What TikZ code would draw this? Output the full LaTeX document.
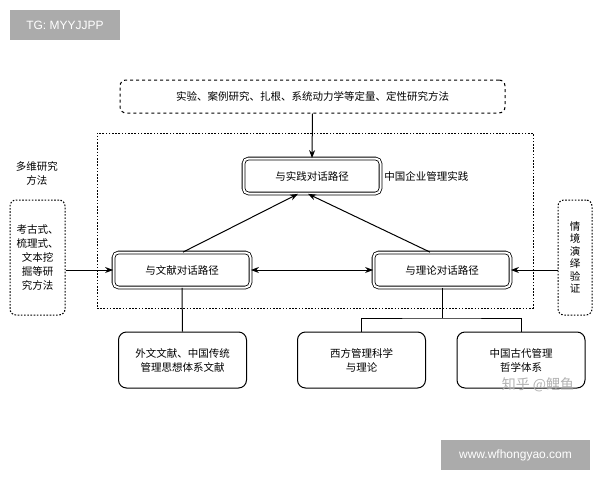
\documentclass[tikz,border=0pt]{standalone}
\usepackage{fontspec}
\newfontfamily\cjk{Noto Sans CJK SC}
\setsansfont{Liberation Sans}
\usetikzlibrary{arrows.meta}
\begin{document}
\begin{tikzpicture}[x=1pt,y=-1pt,
  every node/.style={font=\cjk\fontsize{10.5}{14}\selectfont, align=center},
  dbox/.style={draw, double, double distance=2pt, line width=0.8pt, rounded corners=5pt, minimum width=137pt, minimum height=35pt},
  rbox/.style={draw, line width=1pt, rounded corners=8pt, minimum width=128pt, minimum height=56pt},
  dots/.style={draw, dash pattern=on 1.6pt off 1.6pt, line width=1pt},
  arr/.style={-{Stealth[length=8pt,width=6pt]}, line width=1pt},
  ln/.style={line width=1pt}]
\useasboundingbox (0,0) rectangle (600,480);
\fill[white] (0,0) rectangle (600,480);
\node[fill=black!33, text=white, minimum width=110pt, minimum height=30pt, font=\sffamily\fontsize{12}{14}\selectfont] (tg) at (65,25) {TG: MYYJJPP};
\node[draw, dashed, line width=1pt, rounded corners=6pt, minimum width=385pt, minimum height=33pt] (top) at (312.5,96.5) {实验、案例研究、扎根、系统动力学等定量、定性研究方法};
\node[dots, minimum width=436pt, minimum height=175pt] (big) at (315,220.5) {};
\node[dbox] (sj) at (312,176) {与实践对话路径};
\node[anchor=west] (sjl) at (sj.east) {中国企业管理实践};
\node[dbox] (wx) at (182,270) {与文献对话路径};
\node[dbox] (ll) at (442,270) {与理论对话路径};
\node (lt) at (37,173) {多维研究\\方法};
\node[dots, rounded corners=6pt, minimum width=55pt, minimum height=115pt] (lb) at (37.5,257.5) {考古式、\\梳理式、\\文本挖\\掘等研\\究方法};
\node[dots, rounded corners=6pt, minimum width=34pt, minimum height=115pt, font=\cjk\fontsize{10.5}{12.5}\selectfont] (rb) at (575,257.5) {情\\境\\演\\绎\\验\\证};
\node[rbox] (b1) at (182.5,360) {外文文献、中国传统\\管理思想体系文献};
\node[rbox] (b2) at (361.5,360) {西方管理科学\\与理论};
\node[rbox] (b3) at (521,360) {中国古代管理\\哲学体系};
\draw[arr] (top.south) -- (sj.north);
\draw[arr] (wx.north) ++(1,0) -- ([xshift=-14pt]sj.south);
\draw[arr] ([xshift=-12pt]ll.north) -- ([xshift=-4pt]sj.south);
\draw[{Stealth[length=8pt,width=6pt]}-{Stealth[length=8pt,width=6pt]}, line width=1pt] (wx.east) -- (ll.west);
\draw[arr] (lb.east |- wx.west) -- (wx.west);
\draw[arr] (rb.west |- ll.east) -- (ll.east);
\draw[ln] (wx.south) -- (b1.north);
\coordinate (j) at (442,318);
\draw[ln] (ll.south) -- (j);
\draw[ln] (b2.north) |- (j) -| (b3.north);
\node[text=black!30, font=\cjk\fontsize{14}{15}\selectfont] (wm) at (538,385) {知乎 @鲤鱼};
\node[fill=black!33, text=white, minimum width=149pt, minimum height=30pt, font=\sffamily\fontsize{12}{14}\selectfont] (url) at (515.5,455) {www.wfhongyao.com};
\end{tikzpicture}
\end{document}
